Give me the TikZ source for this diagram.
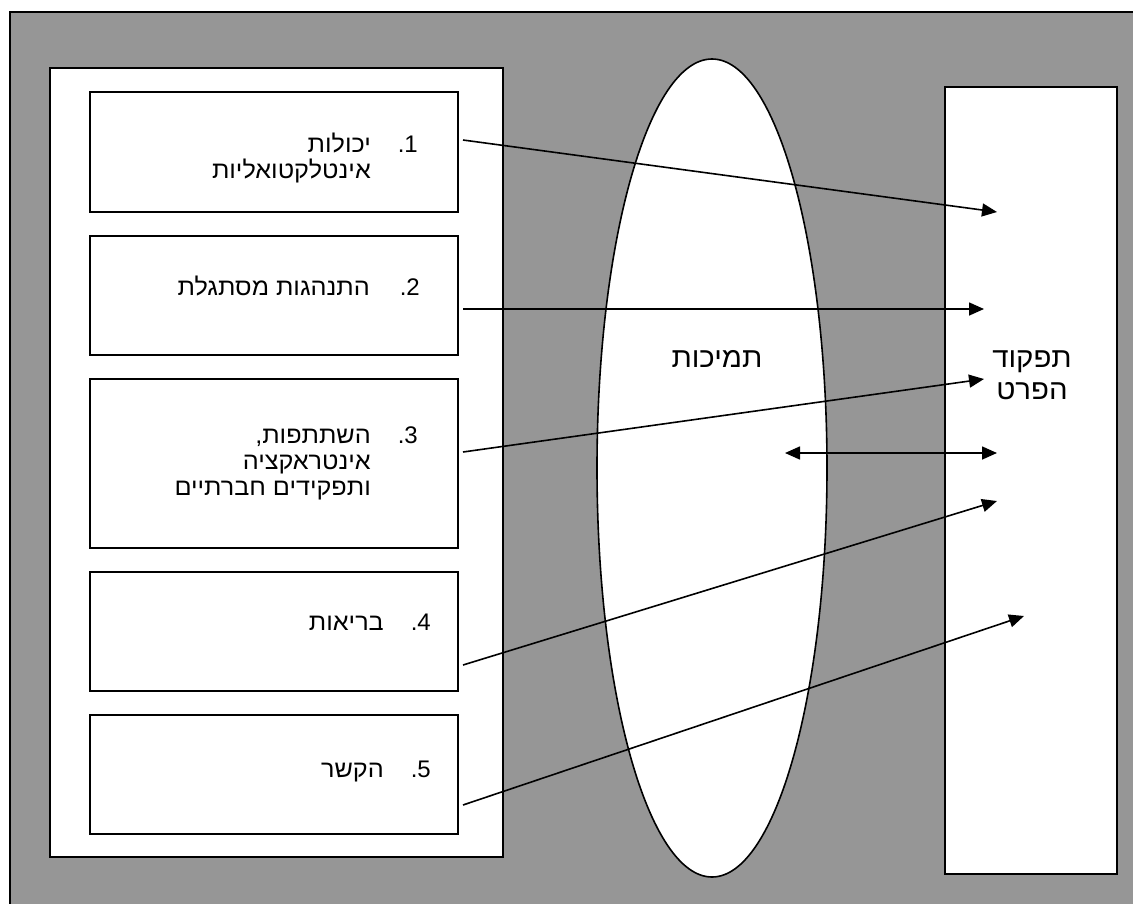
\documentclass[tikz,border=0pt]{standalone}
\usepackage{fontspec}
\setmainfont{Liberation Sans}
\newfontfamily\heb[Script=Hebrew,FakeStretch=1.05]{Liberation Sans}
\TeXXeTstate=1
\usetikzlibrary{arrows.meta,shapes.geometric}
\definecolor{bggrey}{RGB}{150,150,150}
\tikzset{
  frame/.style={draw=black, line width=1.6pt, fill=white, inner sep=0pt},
  itembox/.style={frame, minimum width=368pt},
  boxtext/.style={anchor=base east, inner sep=0pt, font=\fontsize{24}{28}\selectfont},
  titletext/.style={anchor=base, inner sep=0pt, font=\fontsize{28}{32}\selectfont},
  conn/.style={line width=1.6pt, -{Triangle[length=15pt,width=13pt]}},
  biconn/.style={line width=1.6pt, {Triangle[length=15pt,width=13pt]}-{Triangle[length=15pt,width=13pt]}}
}
\begin{document}
\begin{tikzpicture}[x=1pt,y=-1pt]
\useasboundingbox (0,0) rectangle (1133,903);
\fill[white] (0,0) rectangle (1133,903);
\begin{scope}
\clip (0,0) rectangle (1133,903);
\draw[fill=bggrey, line width=1.6pt] (10,12) rectangle (1145,915);
\end{scope}
% left panel
\node[frame, minimum width=453pt, minimum height=789pt] (left) at (276.5,462.5) {};
% item boxes
\node[itembox, minimum height=120pt] (b1) at (274,152) {};
\node[itembox, minimum height=119pt] (b2) at (274,295.5) {};
\node[itembox, minimum height=169pt] (b3) at (274,463.5) {};
\node[itembox, minimum height=119pt] (b4) at (274,631.5) {};
\node[itembox, minimum height=119pt] (b5) at (274,774.5) {};
% ellipse
\node[frame, ellipse, minimum width=230pt, minimum height=818pt] (ell) at (712,468) {};
% right panel
\node[frame, minimum width=172pt, minimum height=787pt] (right) at (1031,480.5) {};
% texts
\node[boxtext] (n1) at (418,152) {.1};
\node[boxtext] (t1a) at (371,152) {\heb\beginR יכולות\endR};
\node[boxtext] (t1b) at (371,178) {\heb\beginR אינטלקטואליות\endR};
\node[boxtext] (n2) at (420,295) {.2};
\node[boxtext] (t2) at (370,295) {\heb\beginR התנהגות מסתגלת\endR};
\node[boxtext] (n3) at (418,443) {.3};
\node[boxtext] (t3a) at (371,443) {\heb\beginR השתתפות,\endR};
\node[boxtext] (t3b) at (371,469) {\heb\beginR אינטראקציה\endR};
\node[boxtext] (t3c) at (371,495) {\heb\beginR ותפקידים חברתיים\endR};
\node[boxtext] (n4) at (431,630) {.4};
\node[boxtext] (t4) at (384,630) {\heb\beginR בריאות\endR};
\node[boxtext] (n5) at (431,777) {.5};
\node[boxtext] (t5) at (384,777) {\heb\beginR הקשר\endR};
\node[titletext] (tm) at (717,367) {\heb\beginR תמיכות\endR};
\node[titletext] (tp1) at (1032,367) {\heb\beginR תפקוד\endR};
\node[titletext] (tp2) at (1032,399) {\heb\beginR הפרט\endR};
% connector end points
\coordinate (s1) at (463,140);
\coordinate (e1) at (997,212);
\coordinate (s2) at (463,309);
\coordinate (e2) at (984,309);
\coordinate (s3) at (463,452);
\coordinate (e3) at (984,379);
\coordinate (s4) at (463,665);
\coordinate (e4) at (997,501);
\coordinate (s5) at (463,805);
\coordinate (e5) at (1024,616);
\coordinate (d1) at (785,453);
\coordinate (d2) at (997,453);
\draw[conn] (s1) -- (e1);
\draw[conn] (s2) -- (e2);
\draw[conn] (s3) -- (e3);
\draw[conn] (s4) -- (e4);
\draw[conn] (s5) -- (e5);
\draw[biconn] (d1) -- (d2);
\end{tikzpicture}
\end{document}
